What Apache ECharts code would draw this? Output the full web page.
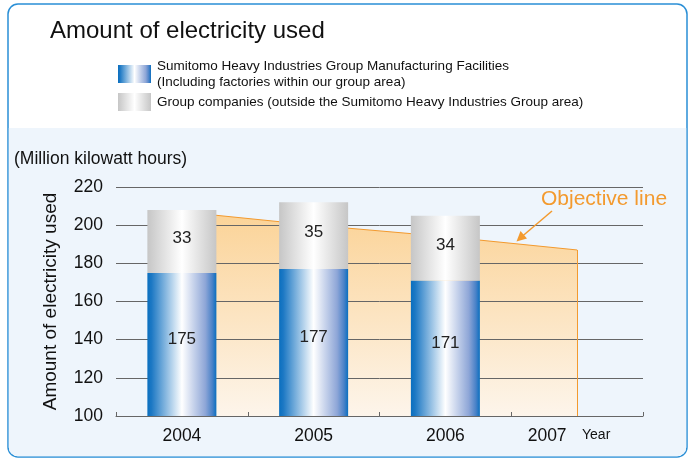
<!DOCTYPE html>
<html>
<head>
<meta charset="utf-8">
<script src="https://cdn.jsdelivr.net/npm/echarts@6/dist/echarts.min.js"></script>
<style>
html,body{margin:0;padding:0;background:#ffffff;}
#chart{width:690px;height:459px;}
</style>
</head>
<body>
<div id="chart"></div>
<script>
const years = ['2004', '2005', '2006', '2007'];
const mfgValues = [175, 177, 171, null];
const groupValues = [33, 35, 34, null];
const objectiveValues = [207, 200, 194, 187];
const yTicks = { min: 100, max: 220, interval: 20 };
const mfgName = 'Sumitomo Heavy Industries Group Manufacturing Facilities\n(Including factories within our group area)';
const groupName = 'Group companies (outside the Sumitomo Heavy Industries Group area)';

const FONT = "'Liberation Sans', Arial, Helvetica, sans-serif";
const chart = echarts.init(document.getElementById('chart'), null, { renderer: 'canvas' });

const blueGrad = new echarts.graphic.LinearGradient(0, 0, 1, 0, [
  { offset: 0, color: '#0a6fbf' },
  { offset: 0.06, color: '#1c78c4' },
  { offset: 0.5, color: '#ffffff' },
  { offset: 0.84, color: '#8ea6d7' },
  { offset: 0.94, color: '#4a82c8' },
  { offset: 1, color: '#0a6fbf' }
]);
const grayGrad = new echarts.graphic.LinearGradient(0, 0, 1, 0, [
  { offset: 0, color: '#c6c6c6' },
  { offset: 0.5, color: '#ffffff' },
  { offset: 1, color: '#c6c6c6' }
]);
const orange = '#f39a2e';

const option = {
  animation: false,
  textStyle: { fontFamily: FONT },
  graphic: [
    { type: 'rect', z: -10, silent: true,
      shape: { x: 8, y: 4, width: 679, height: 453, r: 10 },
      style: { fill: '#ffffff', stroke: '#2a8fd6', lineWidth: 1.5 } },
    { type: 'rect', z: -9, silent: true,
      shape: { x: 8.8, y: 128, width: 677.4, height: 328.2, r: [0, 0, 9, 9] },
      style: { fill: '#eef5fc' } },
    { type: 'text', left: 50, top: 19, z: 5,
      style: { text: 'Amount of electricity used', fontSize: 24, fill: '#111', fontFamily: FONT } },
    { type: 'text', left: 14, top: 150, z: 5,
      style: { text: '(Million kilowatt hours)', fontSize: 17.5, fill: '#111', fontFamily: FONT } },
    { type: 'text', left: 582, top: 428, z: 5,
      style: { text: 'Year', fontSize: 14, fill: '#111', fontFamily: FONT } },
    { type: 'text', left: 541, top: 189, z: 5,
      style: { text: 'Objective line', fontSize: 21, fill: orange, fontFamily: FONT } },
    { type: 'line', z: 5, silent: true,
      shape: { x1: 552, y1: 211, x2: 522, y2: 236.5 },
      style: { stroke: orange, lineWidth: 1.5 } },
    { type: 'polygon', z: 5, silent: true,
      shape: { points: [[527, 238.5], [520.5, 231], [516.5, 241.5]] },
      style: { fill: orange } }
  ],
  legend: {
    orient: 'vertical',
    left: 113,
    top: 53,
    icon: 'rect',
    itemWidth: 33,
    itemHeight: 18,
    itemGap: 3,
    data: [mfgName, groupName],
    textStyle: { fontSize: 13.5, color: '#111', lineHeight: 16, fontFamily: FONT, padding: [0, 0, 0, 1] },
    selectedMode: false
  },
  grid: { left: 116, right: 47, top: 187, bottom: 43, containLabel: false },
  xAxis: {
    type: 'category',
    data: years,
    z: 1,
    axisLine: { lineStyle: { color: '#666', width: 1 } },
    axisTick: { show: true, inside: true, length: 4, lineStyle: { color: '#666' } },
    axisLabel: {
      fontSize: 17.5, color: '#111', margin: 11,
      formatter: function (v, i) { return i === years.length - 1 ? '{shift|' + v + '}' : v; },
      rich: { shift: { fontSize: 17.5, color: '#111', padding: [0, 60, 0, 0] } }
    }
  },
  yAxis: {
    type: 'value',
    min: yTicks.min, max: yTicks.max, interval: yTicks.interval,
    z: 1,
    name: 'Amount of electricity used',
    nameLocation: 'middle',
    nameGap: 56,
    nameRotate: 90,
    nameTextStyle: { fontSize: 19, color: '#111' },
    axisLine: { show: false },
    axisTick: { show: false },
    axisLabel: { fontSize: 17.5, color: '#111', margin: 13 },
    splitLine: { lineStyle: { color: '#666666', width: 1 } }
  },
  series: [
    {
      name: 'Objective',
      type: 'line',
      z: 0,
      data: objectiveValues,
      symbol: 'none',
      silent: true,
      lineStyle: { color: orange, width: 1 },
      areaStyle: {
        origin: 'start',
        opacity: 1,
        color: new echarts.graphic.LinearGradient(0, 0, 0, 1, [
          { offset: 0, color: '#fbd397' },
          { offset: 1, color: '#fdf5eb' }
        ])
      },
      markLine: {
        silent: true,
        symbol: ['none', 'none'],
        label: { show: false },
        lineStyle: { color: orange, width: 1, type: 'solid' },
        data: [[
          { coord: [years[3], objectiveValues[3]] },
          { coord: [years[3], yTicks.min] }
        ]]
      }
    },
    {
      name: mfgName,
      type: 'bar',
      stack: 'total',
      z: 2,
      barWidth: 69,
      data: mfgValues,
      itemStyle: { color: blueGrad },
      label: { show: true, position: 'inside', fontSize: 17, color: '#222', offset: [0, -5] }
    },
    {
      name: groupName,
      type: 'bar',
      stack: 'total',
      z: 2,
      barWidth: 69,
      data: groupValues,
      itemStyle: { color: grayGrad },
      label: { show: true, position: 'inside', fontSize: 17, color: '#222', offset: [0, -3] }
    }
  ]
};
chart.setOption(option);
</script>
</body>
</html>
